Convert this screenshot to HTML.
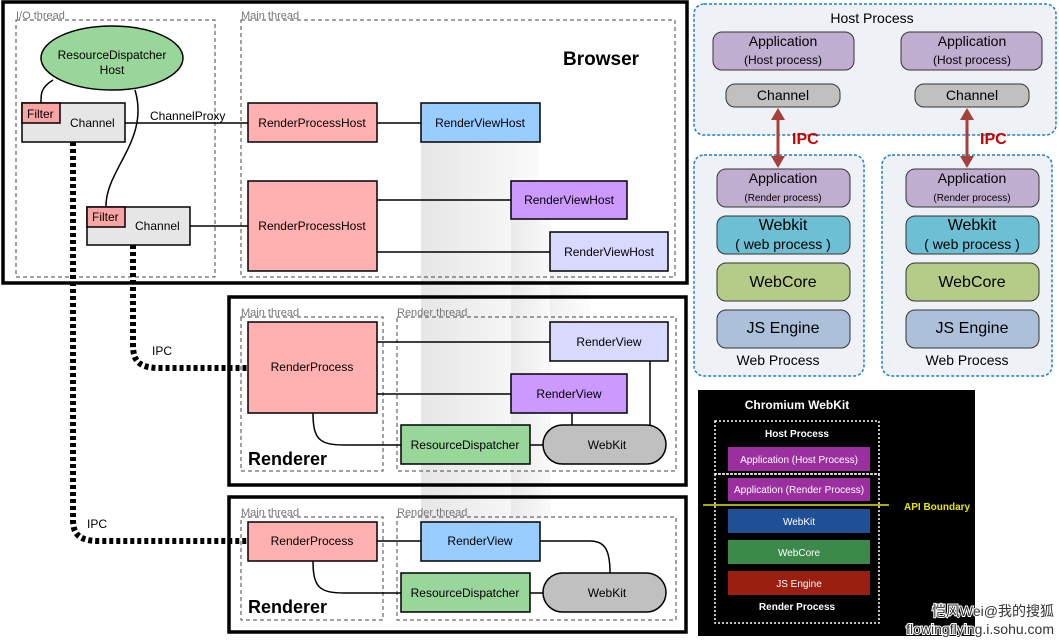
<!DOCTYPE html>
<html><head><meta charset="utf-8"><style>
html,body{margin:0;padding:0;background:#fff;}
svg{display:block;font-family:"Liberation Sans",Arial,sans-serif;}
</style></head><body>
<svg width="1059" height="640" viewBox="0 0 1059 640" xmlns="http://www.w3.org/2000/svg">
<defs>
<linearGradient id="g1" x1="0" x2="1" y1="0" y2="0"><stop offset="0" stop-color="#e6e6e6"/><stop offset="1" stop-color="#fbfbfb"/></linearGradient>
<linearGradient id="g2" x1="0" x2="1" y1="0" y2="0"><stop offset="0" stop-color="#e2e2e2"/><stop offset="1" stop-color="#f6f6f6"/></linearGradient>
</defs>
<rect x="421" y="142" width="118" height="380" fill="url(#g1)"/>
<rect x="511" y="219" width="40" height="300" fill="url(#g2)" opacity="0.6"/>
<rect x="550" y="270" width="40" height="55" fill="url(#g1)" opacity="0.6"/>

<rect x="3" y="2" width="684" height="281" fill="none" stroke="#000" stroke-width="3.5"/>
<g fill="none" stroke="#444" stroke-width="1" stroke-dasharray="4,3">
<rect x="16" y="20" width="199" height="257"/>
<rect x="241" y="20" width="434" height="257"/>
<rect x="241" y="317" width="142" height="154"/>
<rect x="397" y="317" width="279" height="154"/>
<rect x="241" y="517" width="142" height="103"/>
<rect x="397" y="517" width="279" height="103"/>
</g>
<g font-size="11" fill="#777">
<text x="16" y="19">I/O thread</text><text x="241" y="19">Main thread</text>
<text x="241" y="316">Main thread</text><text x="397" y="316">Render thread</text>
<text x="241" y="516">Main thread</text><text x="397" y="516">Render thread</text>
</g>
<text x="563" y="65" font-size="19" font-weight="bold">Browser</text>

<g fill="none" stroke="#000" stroke-width="1.5">
<path d="M53,80 C40,88 41,95 41,103"/>
<path d="M135,90 C150,140 105,170 106,207"/>
<line x1="125" y1="123" x2="248" y2="123"/>
<line x1="190" y1="226" x2="248" y2="226"/>
<line x1="377" y1="123" x2="421" y2="123"/>
<line x1="377" y1="200" x2="511" y2="200"/>
<line x1="377" y1="252" x2="550" y2="252"/>
<line x1="377" y1="342" x2="550" y2="342"/>
<line x1="377" y1="394" x2="511" y2="394"/>
<line x1="572" y1="413" x2="572" y2="425"/>
<line x1="650" y1="361" x2="650" y2="425"/>
<path d="M313,413 C313,440 320,445 345,445 L401,445"/>
<line x1="530" y1="445" x2="543" y2="445"/>
<line x1="377" y1="541" x2="421" y2="541"/>
<path d="M540,541 L590,541 C605,541 610,550 610,573"/>
<path d="M313,561 C313,588 320,593 345,593 L401,593"/>
<line x1="530" y1="593" x2="543" y2="593"/>
</g>

<ellipse cx="112" cy="58" rx="71" ry="32" fill="#99d699" stroke="#000" stroke-width="1.5"/>
<text x="112" y="59" font-size="12" text-anchor="middle">ResourceDispatcher</text>
<text x="112" y="74" font-size="12" text-anchor="middle">Host</text>

<g stroke="#000" stroke-width="1.5" font-size="12">
<rect x="22" y="103" width="103" height="39" fill="#e6e6e6"/>
<rect x="22" y="103" width="38" height="20" fill="#f9a5a5"/>
<rect x="87" y="207" width="103" height="38" fill="#e6e6e6"/>
<rect x="87" y="207" width="38" height="20" fill="#f9a5a5"/>
<rect x="248" y="103" width="129" height="39" fill="#ffb0b0"/>
<rect x="421" y="103" width="119" height="39" fill="#99ccff"/>
<rect x="248" y="181" width="129" height="90" fill="#ffb0b0"/>
<rect x="511" y="181" width="116" height="38" fill="#cc99ff"/>
<rect x="550" y="232" width="118" height="39" fill="#d9d9ff"/>
</g>
<g font-size="12">
<text x="27" y="118">Filter</text><text x="70" y="127">Channel</text>
<text x="92" y="221">Filter</text><text x="135" y="230">Channel</text>
<text x="150" y="120">ChannelProxy</text>
<text x="312" y="127" text-anchor="middle">RenderProcessHost</text>
<text x="480" y="127" text-anchor="middle">RenderViewHost</text>
<text x="312" y="230" text-anchor="middle">RenderProcessHost</text>
<text x="569" y="204" text-anchor="middle">RenderViewHost</text>
<text x="609" y="256" text-anchor="middle">RenderViewHost</text>
</g>

<g fill="none" stroke="#000" stroke-width="6" stroke-dasharray="4,3">
<path d="M133,245 L133,345 C133,362 140,368 160,368 L248,368"/>
<path d="M73,142 L73,520 C73,535 80,541 100,541 L248,541"/>
</g>
<text x="152" y="355" font-size="12">IPC</text>
<text x="87" y="528" font-size="12">IPC</text>

<rect x="229" y="297" width="457" height="188" fill="none" stroke="#000" stroke-width="3.5"/>
<g stroke="#000" stroke-width="1.5">
<rect x="248" y="322" width="129" height="91" fill="#ffb0b0"/>
<rect x="550" y="322" width="118" height="39" fill="#d9d9ff"/>
<rect x="511" y="374" width="116" height="39" fill="#cc99ff"/>
<rect x="401" y="425" width="129" height="39" fill="#99d699"/>
<rect x="543" y="425" width="123" height="39" rx="19.5" fill="#c0c0c0"/>
</g>
<g font-size="12" text-anchor="middle">
<text x="312" y="371">RenderProcess</text>
<text x="609" y="346">RenderView</text>
<text x="569" y="398">RenderView</text>
<text x="465" y="449">ResourceDispatcher</text>
<text x="607" y="449">WebKit</text>
</g>
<text x="248" y="465" font-size="18" font-weight="bold">Renderer</text>

<rect x="229" y="497" width="457" height="135" fill="none" stroke="#000" stroke-width="3.5"/>
<g stroke="#000" stroke-width="1.5">
<rect x="248" y="522" width="129" height="39" fill="#ffb0b0"/>
<rect x="421" y="522" width="119" height="39" fill="#99ccff"/>
<rect x="401" y="573" width="129" height="39" fill="#99d699"/>
<rect x="543" y="573" width="123" height="39" rx="19.5" fill="#c0c0c0"/>
</g>
<g font-size="12" text-anchor="middle">
<text x="312" y="545">RenderProcess</text>
<text x="480" y="545">RenderView</text>
<text x="465" y="597">ResourceDispatcher</text>
<text x="607" y="597">WebKit</text>
</g>
<text x="248" y="613" font-size="18" font-weight="bold">Renderer</text>

<g fill="#eef1f6" stroke="#1a80cc" stroke-width="1.5" stroke-dasharray="3,2">
<rect x="694" y="4" width="362" height="131" rx="10"/>
<rect x="694" y="155" width="170" height="221" rx="10"/>
<rect x="882" y="155" width="170" height="221" rx="10"/>
</g>
<text x="872" y="23" font-size="14" text-anchor="middle">Host Process</text>
<g stroke="#333" stroke-width="1">
<rect x="713" y="32" width="141" height="38" rx="9" fill="#c0aed0"/>
<rect x="901" y="32" width="141" height="38" rx="9" fill="#c0aed0"/>
<rect x="726" y="84" width="114" height="23" rx="9" fill="#c0c0c0"/>
<rect x="915" y="84" width="114" height="23" rx="9" fill="#c0c0c0"/>
<rect x="717" y="169" width="133" height="38" rx="9" fill="#c0aed0"/>
<rect x="717" y="216" width="133" height="38" rx="9" fill="#6dbfd3"/>
<rect x="717" y="263" width="133" height="38" rx="9" fill="#b5cc88"/>
<rect x="717" y="310" width="133" height="38" rx="9" fill="#adc0d9"/>
<rect x="906" y="169" width="133" height="38" rx="9" fill="#c0aed0"/>
<rect x="906" y="216" width="133" height="38" rx="9" fill="#6dbfd3"/>
<rect x="906" y="263" width="133" height="38" rx="9" fill="#b5cc88"/>
<rect x="906" y="310" width="133" height="38" rx="9" fill="#adc0d9"/>
</g>
<g text-anchor="middle">
<text x="783" y="46" font-size="14">Application</text><text x="783" y="64" font-size="12">(Host process)</text>
<text x="972" y="46" font-size="14">Application</text><text x="972" y="64" font-size="12">(Host process)</text>
<text x="783" y="100" font-size="14">Channel</text><text x="972" y="100" font-size="14">Channel</text>
<text x="783" y="183" font-size="14">Application</text><text x="783" y="201" font-size="10">(Render process)</text>
<text x="972" y="183" font-size="14">Application</text><text x="972" y="201" font-size="10">(Render process)</text>
<text x="783" y="230" font-size="16">Webkit</text><text x="783" y="249" font-size="14">( web process )</text>
<text x="972" y="230" font-size="16">Webkit</text><text x="972" y="249" font-size="14">( web process )</text>
<text x="783" y="287" font-size="16">WebCore</text><text x="972" y="287" font-size="16">WebCore</text>
<text x="783" y="333" font-size="16">JS Engine</text><text x="972" y="333" font-size="16">JS Engine</text>
<text x="778" y="365" font-size="14">Web Process</text><text x="967" y="365" font-size="14">Web Process</text>
</g>
<g fill="#a5403a" stroke="#a5403a">
<line x1="778" y1="118" x2="778" y2="158" stroke-width="3"/>
<polygon points="778,108 771,120 785,120" stroke="none"/>
<polygon points="778,168 771,156 785,156" stroke="none"/>
<line x1="967" y1="118" x2="967" y2="158" stroke-width="3"/>
<polygon points="967,108 960,120 974,120" stroke="none"/>
<polygon points="967,168 960,156 974,156" stroke="none"/>
</g>
<text x="792" y="144" font-size="16" font-weight="bold" fill="#cc0000">IPC</text>
<text x="980" y="144" font-size="16" font-weight="bold" fill="#cc0000">IPC</text>

<rect x="698" y="390" width="277" height="246" fill="#000"/>
<text x="797" y="409" font-size="12" font-weight="bold" fill="#fff" text-anchor="middle">Chromium WebKit</text>
<g fill="none" stroke="#fff" stroke-width="1.5" stroke-dasharray="2,2">
<rect x="715" y="421" width="164" height="53"/>
<rect x="715" y="474" width="164" height="149"/>
</g>
<rect x="728" y="447" width="142" height="24" fill="#9b2f9f"/>
<rect x="728" y="478" width="142" height="23" fill="#9b2f9f"/>
<rect x="728" y="509" width="142" height="24" fill="#1f4f94"/>
<rect x="728" y="540" width="142" height="24" fill="#3b8a4a"/>
<rect x="728" y="571" width="142" height="24" fill="#9a1f10"/>
<line x1="703" y1="505" x2="889" y2="505" stroke="#e6e600" stroke-width="1.5"/>
<g fill="#fff" font-size="10" text-anchor="middle">
<text x="797" y="437" font-weight="bold">Host Process</text>
<text x="799" y="463">Application (Host Process)</text>
<text x="799" y="493">Application (Render Process)</text>
<text x="799" y="525">WebKit</text>
<text x="799" y="556">WebCore</text>
<text x="799" y="587">JS Engine</text>
<text x="797" y="610" font-weight="bold">Render Process</text>
</g>
<text x="904" y="510" font-size="10" font-weight="bold" fill="#e6e600">API Boundary</text>
<g font-size="14" fill="#333" stroke="#fff" stroke-width="2" paint-order="stroke" text-anchor="end">
<text x="1054" y="616" font-family="'Liberation Sans','Noto Sans CJK SC',sans-serif">恺风Wei@我的搜狐</text>
<text x="1054" y="634">flowingflying.i.sohu.com</text>
</g>
</svg>
</body></html>
